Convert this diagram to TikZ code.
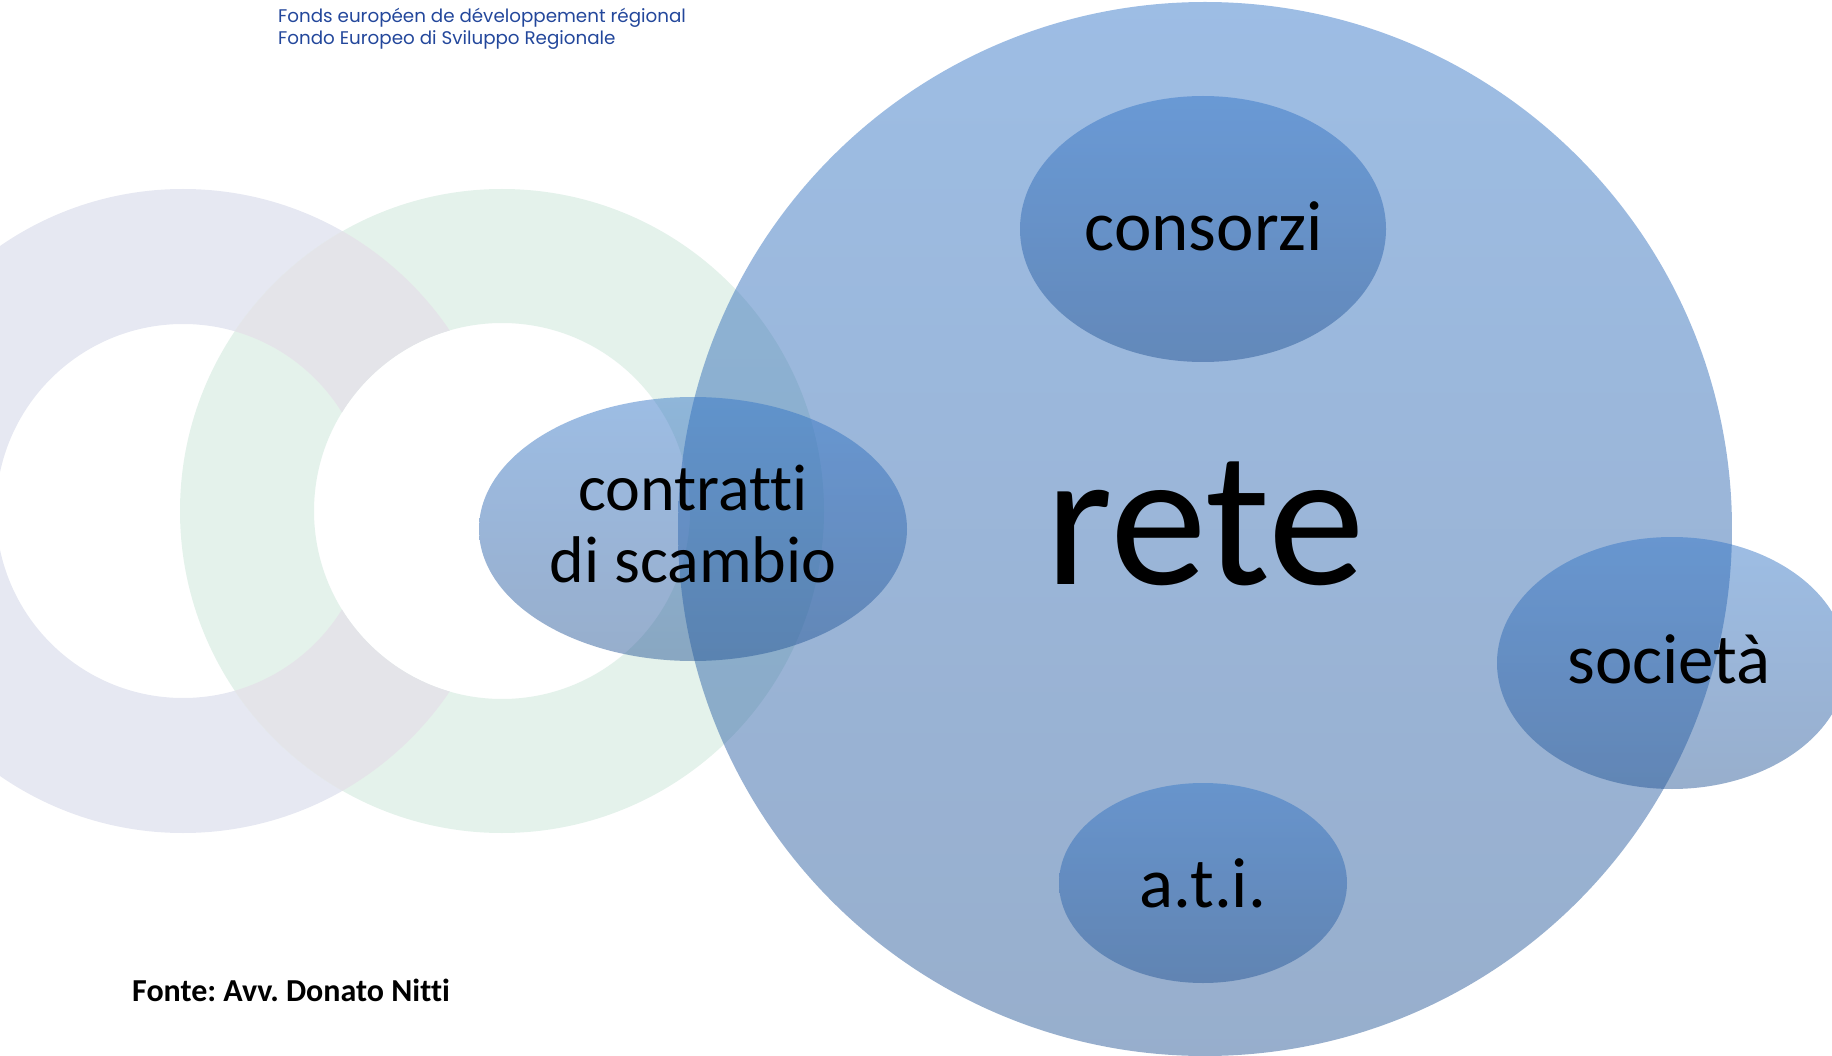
\documentclass[tikz,border=0pt]{standalone}
\usepackage{fontspec}
\setmainfont{Carlito}[Ligatures=NoCommon]
\newfontfamily\headfont{Poppins}
\usetikzlibrary{shapes.geometric}
\definecolor{ringgray}{RGB}{230,232,242}
\definecolor{ringgreen}{RGB}{228,242,235}
\definecolor{ringmix}{RGB}{228,228,233}
\definecolor{bluetop}{RGB}{51,117,199}
\definecolor{bluebot}{RGB}{38,86,149}
\definecolor{headblue}{RGB}{35,71,155}
\tikzset{
  bluebody/.style={draw=none, top color=bluetop, bottom color=bluebot, fill opacity=0.48, inner sep=0pt},
  bigcirc/.style={bluebody, circle, minimum size=1054pt},
  oval/.style={bluebody, ellipse},
  lbl/.style={text=black, inner sep=0pt, anchor=base, text opacity=1},
  head/.style={text=headblue, inner sep=0pt, anchor=base west, font=\headfont\fontsize{18.3}{22}\selectfont}
}
\begin{document}
\frenchspacing
\begin{tikzpicture}[x=1pt,y=-1pt]
\useasboundingbox (0,0) rectangle (1832,1056);
\clip (0,0) rectangle (1832,1056);
% rings
\coordinate (gc) at (183,511);
\coordinate (nc) at (502,511);
\fill[ringgray, even odd rule] (gc) circle[radius=322pt] (gc) circle[radius=187pt];
\fill[white] (nc) circle[radius=188pt];
\fill[ringgreen, even odd rule] (nc) circle[radius=322pt] (nc) circle[radius=188pt];
\begin{scope}[even odd rule]
  \clip (gc) circle[radius=322pt] (gc) circle[radius=187pt];
  \fill[ringmix] (nc) circle[radius=322pt] (nc) circle[radius=188pt];
\end{scope}
% main circle
\node[bigcirc] (rete) at (1205,529) {};
% ellipses
\node[oval, minimum width=366pt, minimum height=266pt] (consorzi) at (1203,229) {};
\node[oval, minimum width=428pt, minimum height=264pt] (contratti) at (693,529) {};
\node[oval, minimum width=350pt, minimum height=252pt] (societa) at (1672,663) {};
\node[oval, minimum width=288pt, minimum height=200pt] (ati) at (1203,883) {};
% labels
\node[lbl, font=\fontsize{194}{194}\selectfont] (tRete) at (1205,584) {rete};
\node[lbl, font=\fontsize{71}{71}\selectfont] (tConsorzi) at (1204,251) {consorzi};
\node[lbl, font=\fontsize{66}{66}\selectfont] (tContr1) at (693,511) {contratti};
\node[lbl, font=\fontsize{66}{66}\selectfont] (tContr2) at (693,582) {di scambio};
\node[lbl, font=\fontsize{71}{71}\selectfont] (tSoc) at (1669,683) {società};
\node[lbl, font=\fontsize{71}{71}\selectfont] (tAti) at (1203,907) {a.t.i.};
\node[lbl, anchor=base west, font=\bfseries\fontsize{32}{32}\selectfont] (fonte) at (132,1001) {Fonte: Avv. Donato Nitti};
\node[head] (h1) at (278,23) {Fonds européen de développement régional};
\node[head] (h2) at (278,45) {Fondo Europeo di Sviluppo Regionale};
\end{tikzpicture}
\end{document}
